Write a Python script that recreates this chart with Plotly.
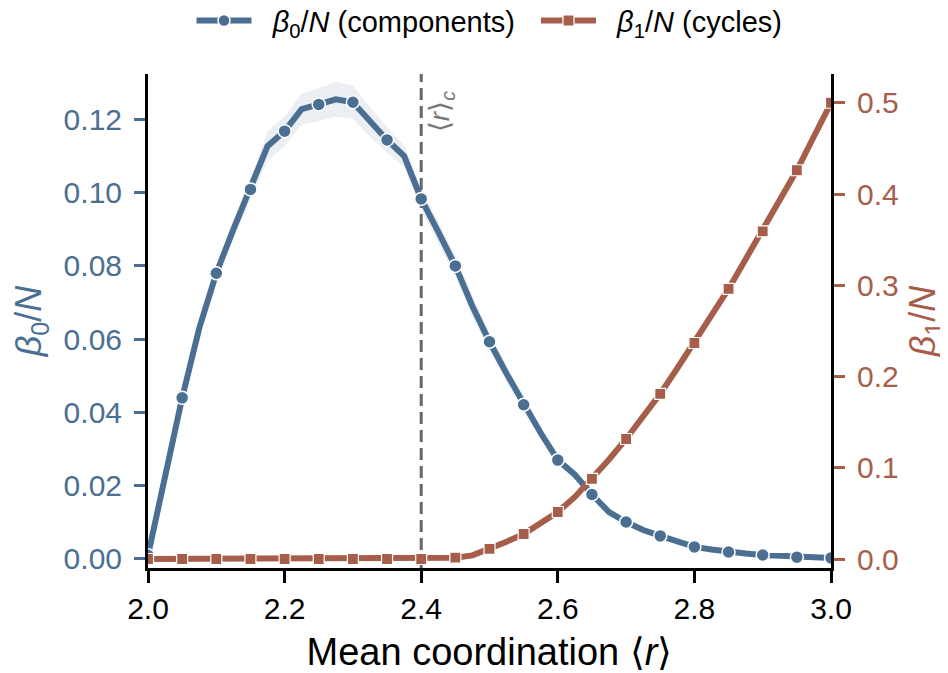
import plotly.graph_objects as go

# ---- data ----
r_line = [2.000, 2.025, 2.050, 2.075, 2.100, 2.125, 2.150, 2.175, 2.200, 2.225,
          2.250, 2.275, 2.300, 2.325, 2.350, 2.375, 2.400, 2.425, 2.450, 2.475,
          2.500, 2.525, 2.550, 2.575, 2.600, 2.625, 2.650, 2.675, 2.700, 2.725,
          2.750, 2.775, 2.800, 2.825, 2.850, 2.875, 2.900, 2.925, 2.950, 2.975, 3.000]

beta0 = [0.0010, 0.0230, 0.0440, 0.0630, 0.0780, 0.0900, 0.1009, 0.1127, 0.1168, 0.1228,
         0.1241, 0.1255, 0.1247, 0.1193, 0.1144, 0.1100, 0.0983, 0.0893, 0.0800, 0.0690,
         0.0593, 0.0506, 0.0421, 0.0344, 0.0270, 0.0230, 0.0176, 0.0128, 0.0101, 0.0079,
         0.0063, 0.0046, 0.0033, 0.0026, 0.0019, 0.0015, 0.0011, 0.0008, 0.0005, 0.0004, 0.0003]

beta0_sd = [0.0000, 0.0008, 0.0012, 0.0015, 0.0020, 0.0025, 0.0030, 0.0040, 0.0040, 0.0042,
            0.0045, 0.0048, 0.0045, 0.0040, 0.0035, 0.0030, 0.0030, 0.0030, 0.0030, 0.0028,
            0.0025, 0.0022, 0.0020, 0.0015, 0.0012, 0.0010, 0.0008, 0.0006, 0.0005, 0.0004,
            0.0003, 0.0003, 0.0002, 0.0002, 0.0002, 0.0001, 0.0001, 0.0001, 0.0001, 0.0001, 0.0001]

beta1 = [0.0, 0.0, 0.0, 0.0, 0.0, 0.0, 0.0, 0.0, 0.0, 0.0,
         0.0, 0.0, 0.0, 0.0, 0.0, 0.0, 0.0, 0.0005, 0.0015, 0.0040,
         0.0110, 0.0190, 0.0274, 0.0390, 0.0515, 0.0680, 0.0877, 0.1090, 0.1315, 0.1550,
         0.1810, 0.2090, 0.2367, 0.2670, 0.2960, 0.3280, 0.3590, 0.3930, 0.4260, 0.4630, 0.5000]

x_ticks = [2.0, 2.2, 2.4, 2.6, 2.8, 3.0]
x_ticktext = ["2.0", "2.2", "2.4", "2.6", "2.8", "3.0"]
y0_ticks = [0.00, 0.02, 0.04, 0.06, 0.08, 0.10, 0.12]
y0_ticktext = ["0.00", "0.02", "0.04", "0.06", "0.08", "0.10", "0.12"]
y1_ticks = [0.0, 0.1, 0.2, 0.3, 0.4, 0.5]
y1_ticktext = ["0.0", "0.1", "0.2", "0.3", "0.4", "0.5"]
r_critical = 2.4

# markers every 0.05 (every other line point)
r_mark = r_line[::2]
beta0_mark = beta0[::2]
beta1_mark = beta1[::2]

BLUE = "#4a6f92"
RED = "#a65e4b"
FONT = "Liberation Sans, Arial, Helvetica, sans-serif"
NB = "\u00a0"

upper = [m + s for m, s in zip(beta0, beta0_sd)]
lower = [m - s for m, s in zip(beta0, beta0_sd)]

fig = go.Figure()

# band
fig.add_trace(go.Scatter(x=r_line, y=upper, mode="lines", line=dict(width=0, color=BLUE),
                         showlegend=False, hoverinfo="skip"))
fig.add_trace(go.Scatter(x=r_line, y=lower, mode="lines", line=dict(width=0, color=BLUE),
                         fill="tonexty", fillcolor="rgba(74,111,146,0.11)",
                         showlegend=False, hoverinfo="skip"))
# beta0 line + markers
fig.add_trace(go.Scatter(x=r_line, y=beta0, mode="lines", line=dict(width=6, color=BLUE),
                         showlegend=False))
fig.add_trace(go.Scatter(x=r_mark, y=beta0_mark, mode="markers",
                         marker=dict(symbol="circle", size=13, color=BLUE,
                                     line=dict(color="white", width=1.5)),
                         showlegend=False))
# beta1 line + markers
fig.add_trace(go.Scatter(x=r_line, y=beta1, mode="lines", line=dict(width=6, color=RED),
                         yaxis="y2", showlegend=False))
fig.add_trace(go.Scatter(x=r_mark, y=beta1_mark, mode="markers", yaxis="y2",
                         marker=dict(symbol="square", size=11, color=RED,
                                     line=dict(color="white", width=1.2)),
                         showlegend=False))

# legend entries
fig.add_trace(go.Scatter(x=[None], y=[None], mode="lines+markers",
                         line=dict(width=6, color=BLUE),
                         marker=dict(symbol="circle", size=12, color=BLUE,
                                     line=dict(color="white", width=1.5)),
                         name=NB * 2 + "<i>β</i><sub>0</sub>/<i>N</i> (components)" + NB * 2,
                         legendrank=1))
fig.add_trace(go.Scatter(x=[None], y=[None], mode="lines+markers", yaxis="y2",
                         line=dict(width=6, color=RED),
                         marker=dict(symbol="square", size=11, color=RED,
                                     line=dict(color="white", width=1.2)),
                         name=NB * 2 + "<i>β</i><sub>1</sub>/<i>N</i> (cycles)", legendrank=2))

fig.add_shape(type="line", xref="x", yref="paper", x0=r_critical, x1=r_critical, y0=0, y1=1,
              line=dict(color="#666666", width=3, dash="12px,6px"), layer="below")
fig.add_annotation(text="⟨<i>r</i>⟩<sub><i>c</i></sub>", x=r_critical, xref="x",
                   y=1, yref="paper", xanchor="left", yanchor="top",
                   xshift=1, yshift=-15, textangle=-90, showarrow=False,
                   font=dict(family=FONT, size=28, color="#777777"))

fig.update_layout(
    width=940, height=665,
    margin=dict(l=140, r=117, t=66, b=105, autoexpand=False),
    paper_bgcolor="white", plot_bgcolor="white",
    font=dict(family=FONT, color="black"),
    showlegend=True,
    legend=dict(orientation="h", x=0.5, xanchor="center", xref="paper",
                y=0.981, yanchor="middle", yref="container",
                traceorder="normal", itemwidth=55,
                font=dict(size=29, color="black"), bgcolor="rgba(0,0,0,0)"),
    xaxis=dict(range=[2.0, 3.0], tickvals=x_ticks, ticktext=x_ticktext, automargin=False,
               ticks="outside", ticklen=12, tickwidth=3, tickcolor="black",
               showline=True, linewidth=3, linecolor="black", showgrid=False, zeroline=False,
               tickfont=dict(size=30, color="black"),
               title=dict(text="Mean coordination ⟨<i>r</i>⟩", font=dict(size=38, color="black"),
                          standoff=15)),
    yaxis=dict(range=[-0.00246, 0.1324], tickvals=y0_ticks, ticktext=y0_ticktext, automargin=False,
               ticks="outside", ticklen=11, tickwidth=3, tickcolor=BLUE, ticklabelstandoff=6,
               showline=True, linewidth=3, linecolor="black", showgrid=False, zeroline=False,
               tickfont=dict(size=30, color=BLUE),
               title=dict(text="<i>β</i><sub>0</sub>/<i>N</i>", font=dict(size=36, color=BLUE),
                          standoff=22)),
    yaxis2=dict(range=[-0.00986, 0.5315], tickvals=y1_ticks, ticktext=y1_ticktext, automargin=False,
                overlaying="y", side="right",
                ticks="outside", ticklen=11, tickwidth=3, tickcolor=RED, ticklabelstandoff=6,
                showline=True, linewidth=3, linecolor="black", showgrid=False, zeroline=False,
                tickfont=dict(size=30, color=RED),
                title=dict(text="<i>β</i><sub>1</sub>/<i>N</i>", font=dict(size=36, color=RED),
                           standoff=24)),
)

fig.write_html("out.html")
